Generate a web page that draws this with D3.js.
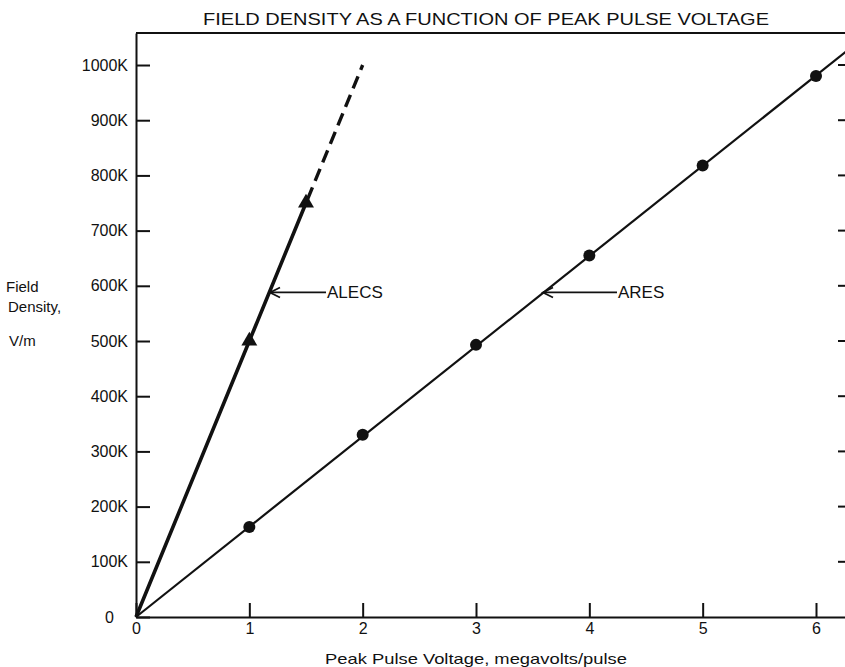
<!DOCTYPE html>
<html>
<head>
<meta charset="utf-8">
<script src="https://cdn.jsdelivr.net/npm/d3@7"></script>
<style>
  html, body { margin: 0; padding: 0; background: #fff; }
  svg text { font-family: "Liberation Sans", "DejaVu Sans", sans-serif; fill: #111; }
</style>
</head>
<body>
<svg id="chart" width="845" height="667"></svg>
<script>
const title = "FIELD DENSITY AS A FUNCTION OF PEAK PULSE VOLTAGE";
const xTitle = "Peak Pulse Voltage, megavolts/pulse";
const yTitleLines = ["Field", "Density,", "V/m"];
const xTicks = [0, 1, 2, 3, 4, 5, 6];
const yTicks = [0, 100000, 200000, 300000, 400000, 500000, 600000, 700000, 800000, 900000, 1000000];

// ARES data (dots)
const aresX = [1, 2, 3, 4, 5, 6];
const aresY = [163000, 330000, 493000, 655000, 818000, 980000];
const aresLineEnd = [6.3, 1030000];
// ALECS data (triangles)
const alecsX = [1, 1.5];
const alecsY = [500000, 750000];
const alecsDashEnd = [2, 1000000];

const svg = d3.select("#chart");
const x = d3.scaleLinear().domain([0, 6.3]).range([136, 850]);
const y = d3.scaleLinear().domain([0, 1058000]).range([617, 33]);

// Title
svg.append("text").attr("x", 486).attr("y", 25).attr("text-anchor", "middle")
  .attr("font-size", 17).attr("textLength", 566).attr("lengthAdjust", "spacingAndGlyphs")
  .text(title);

// Frame: top line
svg.append("line").attr("x1", x(0)).attr("x2", 845).attr("y1", y(1058000)).attr("y2", y(1058000))
  .attr("stroke", "#111").attr("stroke-width", 2);

// Y axis
const yAxis = d3.axisLeft(y).tickValues(yTicks).tickSizeInner(-14).tickSizeOuter(0).tickPadding(8)
  .tickFormat(d => d === 0 ? "0" : (d / 1000) + "K");
const gy = svg.append("g").attr("transform", `translate(${x(0)},0)`).call(yAxis);
gy.select(".domain").attr("stroke", "#111").attr("stroke-width", 2);
gy.selectAll(".tick line").attr("stroke", "#111").attr("stroke-width", 2);
gy.selectAll(".tick text").attr("font-size", 16).attr("fill", "#111")
  .attr("dx", d => d === 0 ? -14 : 0);

// Right side inward ticks
svg.append("g").selectAll("line").data(yTicks.filter(d => d > 0)).join("line")
  .attr("x1", 838).attr("x2", 845).attr("y1", d => y(d)).attr("y2", d => y(d))
  .attr("stroke", "#111").attr("stroke-width", 2);

// X axis
const xAxis = d3.axisBottom(x).tickValues(xTicks).tickSizeInner(-14).tickSizeOuter(0).tickPadding(6)
  .tickFormat(d3.format("d"));
const gx = svg.append("g").attr("transform", `translate(0,${y(0)})`).call(xAxis);
gx.select(".domain").attr("stroke", "#111").attr("stroke-width", 2);
gx.selectAll(".tick line").attr("stroke", "#111").attr("stroke-width", 2);
gx.selectAll(".tick text").attr("font-size", 16).attr("fill", "#111");

// Axis titles
svg.append("text").attr("x", 476).attr("y", 664).attr("text-anchor", "middle")
  .attr("font-size", 15).attr("textLength", 302).attr("lengthAdjust", "spacingAndGlyphs").text(xTitle);
svg.append("g").selectAll("text").data(yTitleLines).join("text")
  .attr("x", (d, i) => [6, 8, 9][i]).attr("y", (d, i) => [292, 312, 346][i])
  .attr("font-size", 15).text(d => d);

// ARES line
const line = d3.line().x(d => x(d[0])).y(d => y(d[1]));
svg.append("path").datum([[0, 0], aresLineEnd]).attr("d", line)
  .attr("fill", "none").attr("stroke", "#111").attr("stroke-width", 2.2);
svg.append("g").selectAll("circle").data(aresX.map((d, i) => [d, aresY[i]])).join("circle")
  .attr("cx", d => x(d[0])).attr("cy", d => y(d[1])).attr("r", 6).attr("fill", "#111");

// ALECS line
const alecsPts = [[0, 0]].concat(alecsX.map((d, i) => [d, alecsY[i]]));
svg.append("path").datum(alecsPts).attr("d", line)
  .attr("fill", "none").attr("stroke", "#111").attr("stroke-width", 3.6);
svg.append("path").datum([alecsPts[alecsPts.length - 1], alecsDashEnd]).attr("d", line)
  .attr("fill", "none").attr("stroke", "#111").attr("stroke-width", 3.4)
  .attr("stroke-dasharray", "13,7").attr("stroke-dashoffset", -4);
const tri = d3.symbol().type(d3.symbolTriangle).size(110);
svg.append("g").selectAll("path").data(alecsX.map((d, i) => [d, alecsY[i]])).join("path")
  .attr("d", tri).attr("transform", d => `translate(${x(d[0])},${y(d[1])})`).attr("fill", "#111");

// Annotations
function annot(label, yv, x1, x2, tx) {
  const yy = y(yv);
  svg.append("line").attr("x1", x1).attr("x2", x2).attr("y1", yy).attr("y2", yy)
    .attr("stroke", "#111").attr("stroke-width", 1.8);
  svg.append("path").attr("d", `M${x1 + 10},${yy - 5} L${x1},${yy} L${x1 + 10},${yy + 5}`)
    .attr("fill", "none").attr("stroke", "#111").attr("stroke-width", 1.8);
  svg.append("text").attr("x", tx).attr("y", yy + 6).attr("font-size", 17).text(label);
}
annot("ALECS", 588000, 270, 326, 327);
annot("ARES", 588000, 543, 617, 618);
</script>
</body>
</html>
